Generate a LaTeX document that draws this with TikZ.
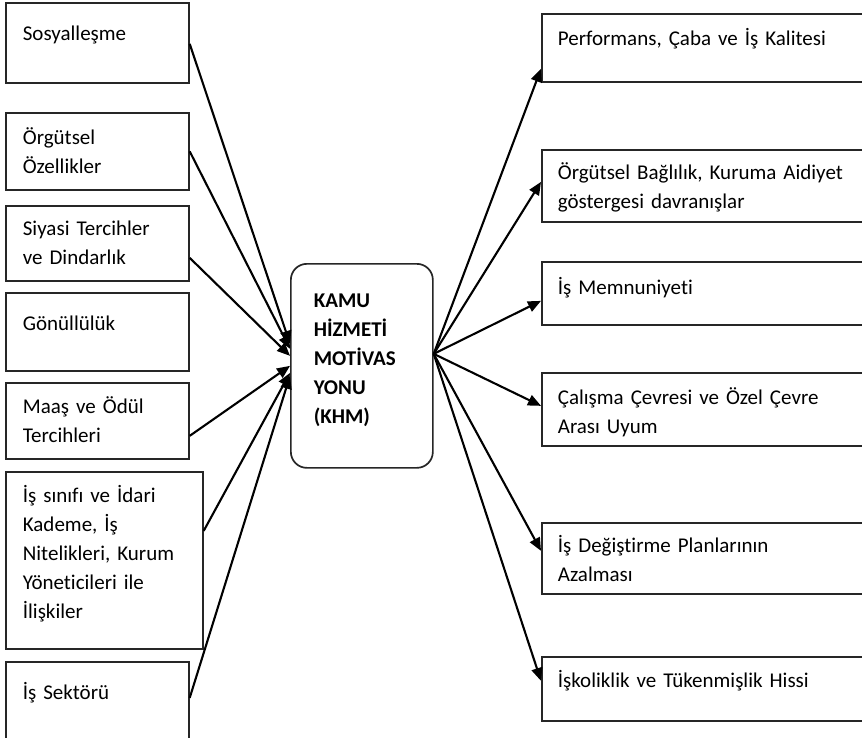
\documentclass[tikz,border=0pt]{standalone}
\usepackage{fontspec}
\setmainfont{Carlito}[Ligatures={NoCommon}]
\usetikzlibrary{arrows.meta}
\begin{document}
\begin{tikzpicture}[x=1pt,y=-1pt,
  box/.style={draw=black!85, line width=1.7pt, anchor=north west, inner xsep=17pt, inner ysep=0pt, align=left, font=\fontsize{21}{29}\selectfont},
  rbox/.style={box, inner xsep=16pt, text width=317pt},
  arr/.style={line width=2.1pt, -{Triangle[length=13pt,width=11pt]}}]
\useasboundingbox (0,0) rectangle (862,737);
\fill[white] (0,0) rectangle (862,737);
\clip (0,0) rectangle (862,737);

% left boxes
\node[box, text width=149pt, text height=38pt, text depth=42pt] (l1) at (5,2) {Sosyalleşme};
\node[box, text width=149pt, text height=32pt, text depth=45pt] (l2) at (5,112) {Örgütsel\\Özellikler};
\node[box, text width=149pt, text height=30pt, text depth=45pt] (l3) at (5,205) {Siyasi Tercihler\\ve Dindarlık};
\node[box, text width=149pt, text height=38pt, text depth=40pt] (l4) at (5,292) {Gönüllülük};
\node[box, text width=149pt, text height=31pt, text depth=45pt] (l5) at (5,382) {Maaş ve Ödül\\Tercihleri};
\node[box, text width=163pt, text height=31pt, text depth=146pt] (l6) at (5,471) {İş sınıfı ve İdari\\Kademe, İş\\Nitelikleri, Kurum\\Yöneticileri ile\\İlişkiler};
\node[box, text width=149pt, text height=38pt, text depth=62pt] (l7) at (5,661) {İş Sektörü};

% centre
\node[box, rounded corners=16pt, inner xsep=23pt, text width=96pt, text height=44pt, text depth=160pt, font=\bfseries\fontsize{21}{29}\selectfont] (c) at (290,263) {KAMU\\HİZMETİ\\MOTİVAS\\YONU\\(KHM)};

% right boxes
\node[rbox, text height=32pt, text depth=36pt] (r1) at (541,13) {Performans, Çaba ve İş Kalitesi};
\node[rbox, text height=30pt, text depth=42pt] (r2) at (541,149) {Örgütsel Bağlılık, Kuruma Aidiyet\\göstergesi davranışlar};
\node[rbox, text height=33pt, text depth=30pt] (r3) at (541,261) {İş Memnuniyeti};
\node[rbox, text height=32pt, text depth=41pt] (r4) at (541,372) {Çalışma Çevresi ve Özel Çevre\\Arası Uyum};
\node[rbox, text height=30pt, text depth=41pt] (r5) at (541,522) {İş Değiştirme Planlarının\\Azalması};
\node[rbox, text height=31pt, text depth=33pt] (r6) at (541,656) {İşkoliklik ve Tükenmişlik Hissi};

% incoming arrows
\draw[arr] ([yshift=-1pt]l1.east) -- ([yshift=22pt]c.west);
\draw[arr] (l2.east) -- ([yshift=17pt]c.west);
\draw[arr] ([yshift=-14.5pt]l3.east) -- ([yshift=10pt]c.west);
\draw[arr] ([yshift=-15pt]l5.east) -- ([yshift=0pt]c.west);
\draw[arr] ([yshift=29.5pt]l6.east) -- ([yshift=-7pt]c.west);
\draw[arr] ([yshift=14pt]l7.east) -- ([yshift=-10pt]c.west);

% outgoing arrows
\coordinate (o) at ([yshift=12pt]c.east);
\draw[arr] (o) -- ([yshift=-21pt]r1.west);
\draw[arr] (o) -- ([yshift=4pt]r2.west);
\draw[arr] (o) -- ([yshift=-7.5pt]r3.west);
\draw[arr] (o) -- ([yshift=3.5pt]r4.west);
\draw[arr] (o) -- ([yshift=7.5pt]r5.west);
\draw[arr] (o) -- ([yshift=8pt]r6.west);
\end{tikzpicture}
\end{document}
